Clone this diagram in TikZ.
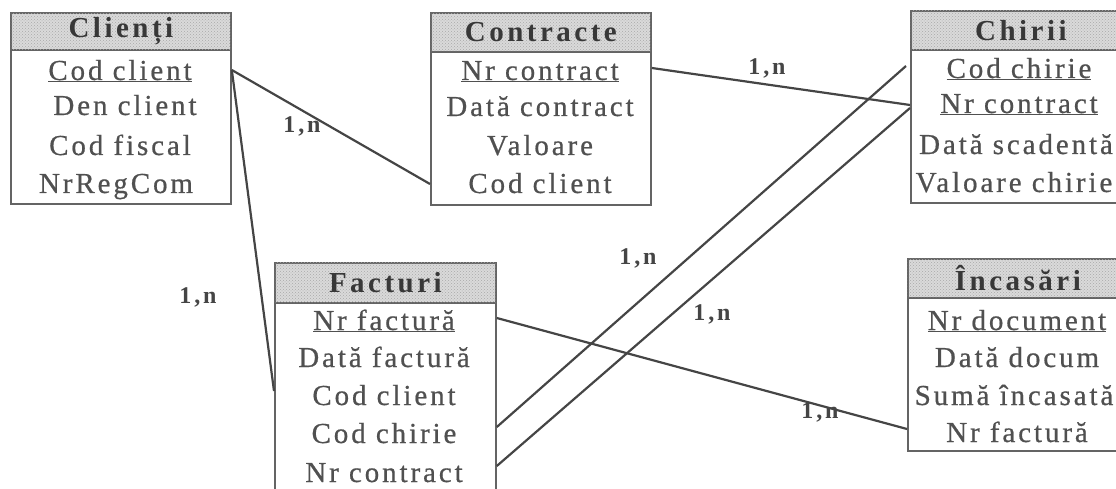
\documentclass[tikz,border=0pt]{standalone}
\usepackage{fontspec}
\setmainfont{Liberation Serif}
\newfontfamily\bodyfont{Liberation Serif}[LetterSpace=10, FakeBold=0.6]
\newfontfamily\headfont{Liberation Serif}[LetterSpace=12]
\newfontfamily\cardfont{Liberation Serif}[LetterSpace=12]
\usetikzlibrary{patterns}

\definecolor{ink}{HTML}{505050}
\definecolor{titleink}{HTML}{383838}
\definecolor{wire}{HTML}{454545}
\definecolor{frame}{HTML}{646464}
\definecolor{headfill}{HTML}{DADADA}
\definecolor{headdots}{HTML}{A8A8A8}

\tikzset{
  entitybox/.style={draw=frame, line width=1.8pt, fill=white, anchor=north west, inner sep=0pt},
  headbox/.style={draw=frame, line width=1.8pt, anchor=north west, inner sep=0pt,
    fill=headfill, postaction={pattern=crosshatch dots, pattern color=headdots},
    font=\fontsize{29}{29}\headfont\bfseries, text=titleink},
  field/.style={anchor=base, inner sep=0pt, text=ink, font=\fontsize{29}{29}\bodyfont},
  card/.style={anchor=center, inner sep=0pt, text=wire, font=\fontsize{24}{24}\cardfont\bfseries},
  link/.style={draw=wire, line width=2.2pt}
}

\begin{document}
\begin{tikzpicture}[x=1pt,y=-1pt]
\useasboundingbox (0,0) rectangle (1116,489);
\clip (0,0) rectangle (1116,489);

% ---- Clienți ----
\node[entitybox, minimum width=220pt, minimum height=191pt] (clienti) at (10,12) {};
\node[headbox, minimum width=220pt, minimum height=37pt] (clienti-t) at (10,12) {Clienți};
\node[field] (cl1) at (120,80) {\underline{Cod client}};
\node[field] (cl2) at (125,115) {Den client};
\node[field] (cl3) at (120,155) {Cod fiscal};
\node[field] (cl4) at (116,193) {NrRegCom};

% ---- Contracte ----
\node[entitybox, minimum width=220pt, minimum height=192pt] (contracte) at (430,12) {};
\node[headbox, minimum width=220pt, minimum height=39pt] (contracte-t) at (430,12) {Contracte};
\node[field] (ct1) at (540,80) {\underline{Nr contract}};
\node[field] (ct2) at (540,116) {Dată contract};
\node[field] (ct3) at (540,155) {Valoare};
\node[field] (ct4) at (540,193) {Cod client};

% ---- Chirii ----
\node[entitybox, minimum width=220pt, minimum height=192pt] (chirii) at (910,10) {};
\node[headbox, minimum width=220pt, minimum height=39pt] (chirii-t) at (910,10) {Chirii};
\node[field] (ch1) at (1019,78) {\underline{Cod chirie}};
\node[field] (ch2) at (1019,113) {\underline{Nr contract}};
\node[field] (ch3) at (1016,154) {Dată scadentă};
\node[field] (ch4) at (1014,192) {Valoare chirie};

% ---- Facturi ----
\node[entitybox, minimum width=221pt, minimum height=240pt] (facturi) at (274,262) {};
\node[headbox, minimum width=221pt, minimum height=40pt] (facturi-t) at (274,262) {Facturi};
\node[field] (fa1) at (384,330) {\underline{Nr factură}};
\node[field] (fa2) at (384,367) {Dată factură};
\node[field] (fa3) at (384,405) {Cod client};
\node[field] (fa4) at (384,443) {Cod chirie};
\node[field] (fa5) at (384,482) {Nr contract};

% ---- Încasări ----
\node[entitybox, minimum width=220pt, minimum height=192pt] (incasari) at (907,258) {};
\node[headbox, minimum width=220pt, minimum height=39pt] (incasari-t) at (907,258) {Încasări};
\node[field] (in1) at (1017,330) {\underline{Nr document}};
\node[field] (in2) at (1017,367) {Dată docum};
\node[field] (in3) at (1014,405) {Sumă încasată};
\node[field] (in4) at (1017,442) {Nr factură};

% ---- relationships ----
\draw[link] ([yshift=10pt]clienti.east |- cl1.base) -- ([yshift=9pt]contracte.west |- ct4.base);
\draw[link] ([yshift=10pt]clienti.east |- cl1.base) -- ([yshift=14pt]facturi.west |- fa3.base);
\draw[link] ([yshift=12pt]contracte.east |- ct1.base) -- ([yshift=8pt]chirii.west |- ch2.base);
\draw[link] ([yshift=16pt]facturi.east |- fa4.base) -- ([xshift=-4pt,yshift=12pt]chirii.west |- ch1.base);
\draw[link] ([yshift=16pt]facturi.east |- fa5.base) -- ([yshift=5pt]chirii.west |- ch2.base);
\draw[link] ([yshift=12pt]facturi.east |- fa1.base) -- ([yshift=13pt]incasari.west |- in4.base);

% ---- cardinalities ----
\node[card] (k1) at (302,126) {1,n};
\node[card] (k2) at (198,297) {1,n};
\node[card] (k3) at (767,68) {1,n};
\node[card] (k4) at (638,258) {1,n};
\node[card] (k5) at (712,314) {1,n};
\node[card] (k6) at (820,412) {1,n};
\end{tikzpicture}
\end{document}
